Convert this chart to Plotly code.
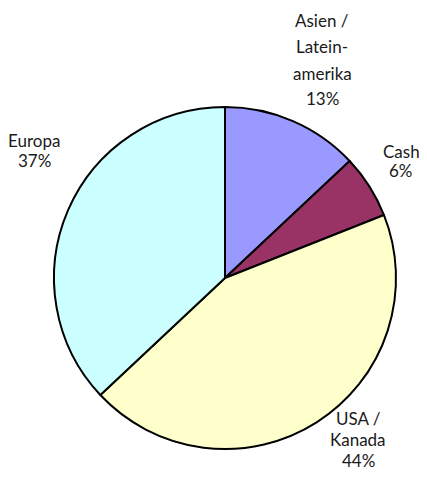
import plotly.graph_objects as go

regions = ["Asien / Latein-amerika", "Cash", "USA / Kanada", "Europa"]
shares = [13, 6, 44, 37]
colors = ["#9999FF", "#993366", "#FFFFCC", "#CCFFFF"]

# how each label is broken into lines
label_lines = [
    ["Asien /", "Latein-", "amerika"],
    ["Cash"],
    ["USA /", "Kanada"],
    ["Europa"],
]
# label placement in screen pixels: x centre, y of first line, line step
label_pos = [(322, 20, 26), (401, 150, 19), (358, 417, 21), (34, 139, 20)]

# page body has an 8px margin all round, so the figure starts at (8, 8)
# and is kept small enough that the page never scrolls
OFF = 8
W, H = 427 - OFF, 481 - 2 * OFF


def fx(x):
    return (x - OFF) / W


def fy(y):
    return 1 - (y - OFF) / H


fig = go.Figure(go.Pie(
    labels=regions,
    values=shares,
    sort=False,
    direction="clockwise",
    rotation=0,
    marker=dict(colors=colors, line=dict(color="black", width=2)),
    textinfo="none",
    hoverinfo="label+percent",
    domain=dict(x=[fx(54), fx(396)], y=[fy(449), fy(107)]),
))

for lines, val, (cx, y0, step) in zip(label_lines, shares, label_pos):
    for i, line in enumerate(lines + [f"{val}%"]):
        fig.add_annotation(
            x=fx(cx), y=fy(y0 + i * step + 1), xref="paper", yref="paper",
            text=line, showarrow=False,
            xanchor="center", yanchor="middle",
            font=dict(family="Lato, sans-serif", size=17, color="#1a1a1a"),
        )

fig.update_layout(
    width=W, height=H,
    margin=dict(l=0, r=0, t=0, b=0),
    showlegend=False,
    paper_bgcolor="white",
)

fig.write_html("out.html")
